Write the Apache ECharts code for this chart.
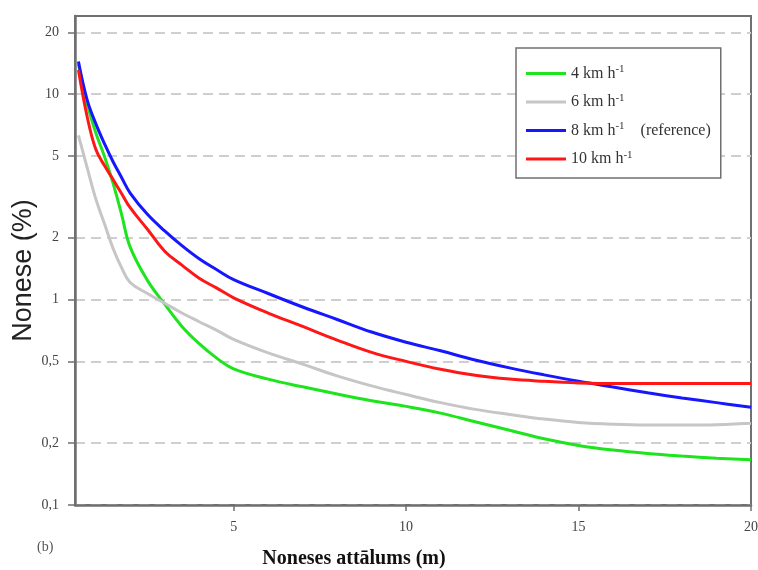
<!DOCTYPE html>
<html>
<head>
<meta charset="utf-8">
<script src="https://cdn.jsdelivr.net/npm/echarts@6/dist/echarts.min.js"></script>
<style>html,body{margin:0;padding:0;background:#fff}#c{width:758px;height:570px}</style>
</head>
<body>
<div id="c"></div>
<script>
var distances = [0.5, 0.75, 1, 1.25, 1.5, 1.75, 2, 2.5, 3, 3.5, 4, 4.5, 5, 6, 7, 8, 9, 10, 11, 12, 13, 14, 15, 16, 17, 18, 19, 20];
var speed4  = [14.0, 9.0, 6.5, 5.0, 3.7, 2.6, 1.8, 1.24, 0.95, 0.74, 0.61, 0.52, 0.46, 0.41, 0.376, 0.347, 0.322, 0.302, 0.28, 0.254, 0.231, 0.21, 0.195, 0.185, 0.178, 0.173, 0.169, 0.166];
var speed6  = [6.3, 4.4, 3.1, 2.35, 1.78, 1.43, 1.21, 1.07, 0.96, 0.86, 0.78, 0.71, 0.64, 0.55, 0.485, 0.425, 0.38, 0.345, 0.315, 0.292, 0.276, 0.262, 0.252, 0.247, 0.245, 0.245, 0.246, 0.25];
var speed8  = [14.4, 9.4, 7.2, 5.75, 4.7, 3.93, 3.3, 2.6, 2.16, 1.83, 1.58, 1.4, 1.25, 1.07, 0.92, 0.8, 0.695, 0.62, 0.563, 0.508, 0.465, 0.43, 0.40, 0.375, 0.352, 0.332, 0.315, 0.299];
var speed10 = [13.1, 7.8, 5.4, 4.5, 3.85, 3.28, 2.8, 2.2, 1.72, 1.47, 1.27, 1.14, 1.02, 0.86, 0.74, 0.635, 0.553, 0.5, 0.458, 0.428, 0.41, 0.4, 0.393, 0.39, 0.39, 0.39, 0.39, 0.39];
var seriesNames = ['4 km h-1', '6 km h-1', '8 km h-1', '10 km h-1'];
var seriesColors = ['#1ee41e', '#c6c6c6', '#1616ff', '#ff1616'];
var yTicks = [0.1, 0.2, 0.5, 1, 2, 5, 10, 20];
var xTicks = [5, 10, 15, 20];

function pairs(vals) { return distances.map(function (d, i) { return [d, vals[i]]; }); }
var allVals = [speed4, speed6, speed8, speed10];

var chart = echarts.init(document.getElementById('c'), null, {renderer: 'canvas'});
var serif = '"Liberation Serif", "Times New Roman", serif';
chart.setOption({
  animation: false,
  backgroundColor: '#fff',
  grid: {left: 75, right: 7, top: 16, bottom: 65, containLabel: false, outerBoundsMode: 'none',
    show: true, borderColor: '#707070', borderWidth: 2},
  legend: {
    left: 516, top: 48, orient: 'vertical', icon: 'rect',
    padding: [16, 10, 11, 10], itemGap: 11, itemWidth: 40, itemHeight: 3,
    borderColor: '#707070', borderWidth: 1.5, backgroundColor: '#fff',
    data: seriesNames,
    formatter: function (name) {
      var base = name.replace(' h-1', ' h');
      var s = '{n|' + base + '}{s|-1}';
      if (name === '8 km h-1') s += '{n|    (reference)}';
      return s;
    },
    textStyle: {
      fontFamily: serif, color: '#333',
      rich: {
        n: {fontFamily: serif, fontSize: 16, color: '#333', lineHeight: 19},
        s: {fontFamily: serif, fontSize: 11, color: '#333', lineHeight: 10, verticalAlign: 'top'}
      }
    }
  },
  xAxis: {
    type: 'value', min: 0.4, max: 20,
    name: 'Noneses attālums (m)', nameLocation: 'middle', nameGap: 44,
    nameTextStyle: {fontFamily: serif, fontSize: 20, fontWeight: 'bold', color: '#111', padding: [0, 118, 0, 0]},
    axisLine: {show: true, lineStyle: {color: '#707070', width: 2.5}},
    axisTick: {show: true, inside: false, length: 6, customValues: xTicks, lineStyle: {color: '#707070', width: 1.5}},
    axisLabel: {customValues: xTicks, margin: 15, fontFamily: serif, fontSize: 14, color: '#444'},
    splitLine: {show: false}
  },
  yAxis: {
    type: 'log', logBase: 10, min: 0.1, max: 24,
    name: 'Nonese (%)', nameLocation: 'middle', nameGap: 38, nameMoveOverlap: false,
    nameTextStyle: {fontFamily: '"Liberation Sans", Arial, sans-serif', fontSize: 27, color: '#222', padding: [0, 20, 0, 0]},
    axisLine: {show: true, lineStyle: {color: '#707070', width: 2.5}},
    axisTick: {show: true, inside: false, length: 7, customValues: yTicks, lineStyle: {color: '#707070', width: 1.5}},
    axisLabel: {customValues: yTicks, margin: 16, fontFamily: serif, fontSize: 14, color: '#444',
      formatter: function (v) { return String(+v.toPrecision(3)).replace('.', ','); }},
    splitLine: {show: true, lineStyle: {color: '#cfcfcf', width: 2, type: [10, 6]}}
  },
  graphic: [{type: 'text', left: 37, top: 540, style: {text: '(b)', font: '14px ' + serif, fill: '#555'}}],
  series: seriesNames.map(function (n, i) {
    return {
      name: n, type: 'line', data: pairs(allVals[i]), smooth: 0.4,
      symbol: 'none', showSymbol: false,
      lineStyle: {color: seriesColors[i], width: 3}, itemStyle: {color: seriesColors[i]},
      z: 2 + i
    };
  })
});
</script>
</body>
</html>
